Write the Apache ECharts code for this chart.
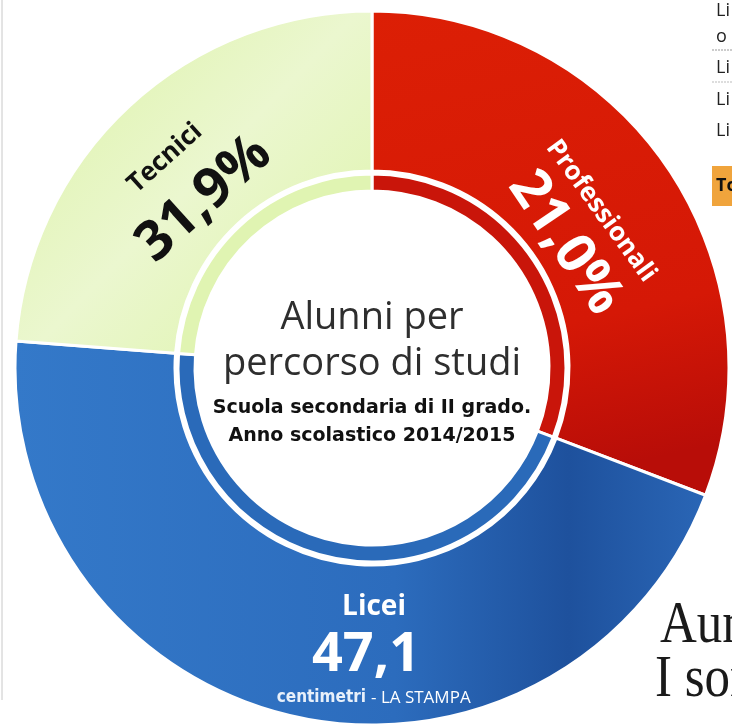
<!DOCTYPE html>
<html>
<head>
<meta charset="utf-8">
<script src="https://cdn.jsdelivr.net/npm/echarts@6/dist/echarts.min.js"></script>
<style>
html,body{margin:0;padding:0;background:#fff;}
#chart{width:732px;height:725px;}
</style>
</head>
<body>
<div id="chart"></div>
<script>
// Categories in clockwise order starting at 12 o'clock
var categories = ['Professionali', 'Licei', 'Tecnici'];
// Printed figures (as written on the chart)
var printedLabels = ['21,0%', '47,1', '31,9%'];
// Arc shares as drawn in the picture (percent of the full ring)
var arcShares = [30.8, 45.4, 23.8];
// Centre titles
var titleLines = ['Alunni per', 'percorso di studi'];
var subtitleLines = ['Scuola secondaria di II grado.', 'Anno scolastico 2014/2015'];
var sourceText = '- LA STAMPA';
var brandText = 'centimetri';

var outerColors = [
  {type:'linear',x:0,y:0,x2:0.3,y2:1,colorStops:[{offset:0,color:'#dc1f05'},{offset:0.7,color:'#d51806'},{offset:1,color:'#b80d08'}]},
  {type:'linear',x:0,y:0,x2:1,y2:0,colorStops:[{offset:0,color:'#3479c9'},{offset:0.55,color:'#2c6cbd'},{offset:0.8,color:'#1e519d'},{offset:1,color:'#2a66b6'}]},
  {type:'linear',x:0,y:0,x2:1,y2:1,colorStops:[{offset:0,color:'#dbf2a4'},{offset:0.5,color:'#ebf7cf'},{offset:1,color:'#dcf3a6'}]}
];
var innerColors = ['#c9150a', '#2a6ab9', '#e0f4b2'];

var center = [372, 368];

function buildData(colors){
  return categories.map(function(c,i){
    return {name:c, value:arcShares[i], itemStyle:{color:colors[i]}};
  });
}

var chart = echarts.init(document.getElementById('chart'), null, {renderer:'canvas'});
var deg = Math.PI/180;
var bold = function(size){ return 'bold ' + size + 'px "Open Sans", "DejaVu Sans", sans-serif'; };

function txt(o){
  o.type = 'text'; o.z = 100;
  return o;
}

var option = {
  animation:false,
  backgroundColor:'#ffffff',
  series:[
    {
      type:'pie', center:center, radius:[197,357], startAngle:90, clockwise:true,
      silent:true, label:{show:false}, labelLine:{show:false},
      itemStyle:{borderColor:'#ffffff', borderWidth:3},
      data:buildData(outerColors)
    },
    {
      type:'pie', center:center, radius:[177,194], startAngle:90, clockwise:true,
      silent:true, label:{show:false}, labelLine:{show:false},
      itemStyle:{borderColor:'#ffffff', borderWidth:3},
      data:buildData(innerColors)
    }
  ],
  graphic:[
    // left page rule
    {type:'line', z:100, shape:{x1:2,y1:0,x2:2,y2:700}, style:{stroke:'#c8c8c8', lineWidth:1}},
    // Tecnici
    txt({x:165, y:158, rotation:42*deg, style:{text:categories[2], font:bold(26), fill:'#111', textAlign:'center', textVerticalAlign:'middle'}}),
    txt({x:204, y:199, rotation:42*deg, style:{text:printedLabels[2], font:bold(55), fill:'#111', textAlign:'center', textVerticalAlign:'middle'}}),
    // Professionali
    txt({x:601, y:211, rotation:-54*deg, style:{text:categories[0], font:bold(26), fill:'#ffffff', textAlign:'center', textVerticalAlign:'middle'}}),
    txt({x:565, y:243, rotation:-56*deg, style:{text:printedLabels[0], font:bold(55), fill:'#ffffff', textAlign:'center', textVerticalAlign:'middle'}}),
    // Licei
    txt({x:374, y:607, style:{text:categories[1], font:bold(28), fill:'#ffffff', textAlign:'center', textVerticalAlign:'middle'}}),
    txt({x:366, y:656, style:{text:printedLabels[1], font:bold(54), fill:'#ffffff', textAlign:'center', textVerticalAlign:'middle'}}),
    // source
    txt({x:366, y:698, style:{text:brandText, font:'bold 17px "Liberation Sans Narrow", "DejaVu Sans Condensed", sans-serif', fill:'#e8f0fa', textAlign:'right', textVerticalAlign:'middle'}}),
    txt({x:371, y:698, style:{text:sourceText, font:'17px "Open Sans", sans-serif', fill:'#ffffff', textAlign:'left', textVerticalAlign:'middle'}}),
    // centre titles
    txt({x:372, y:318, style:{text:titleLines[0], font:'38px "Open Sans", sans-serif', fill:'#2e2e2e', textAlign:'center', textVerticalAlign:'middle'}}),
    txt({x:372, y:364, style:{text:titleLines[1], font:'38px "Open Sans", sans-serif', fill:'#2e2e2e', textAlign:'center', textVerticalAlign:'middle'}}),
    txt({x:372, y:408, style:{text:subtitleLines[0], font:'bold 19px "DejaVu Sans", sans-serif', fill:'#111', textAlign:'center', textVerticalAlign:'middle'}}),
    txt({x:372, y:436, style:{text:subtitleLines[1], font:'bold 19px "DejaVu Sans", sans-serif', fill:'#111', textAlign:'center', textVerticalAlign:'middle'}}),
    // clipped neighbouring newspaper content (right edge)
    txt({x:716, y:11, style:{text:'Li', font:'18px "Open Sans", sans-serif', fill:'#222', textVerticalAlign:'middle'}}),
    txt({x:716, y:37, style:{text:'o', font:'18px "Open Sans", sans-serif', fill:'#222', textVerticalAlign:'middle'}}),
    {type:'line', z:100, shape:{x1:712,y1:50,x2:732,y2:50}, style:{stroke:'#999', lineWidth:1, lineDash:[2,1]}},
    {type:'line', z:100, shape:{x1:712,y1:82,x2:732,y2:82}, style:{stroke:'#bbb', lineWidth:1, lineDash:[2,1]}},
    txt({x:716, y:68, style:{text:'Li', font:'18px "Open Sans", sans-serif', fill:'#222', textVerticalAlign:'middle'}}),
    txt({x:716, y:100, style:{text:'Li', font:'18px "Open Sans", sans-serif', fill:'#222', textVerticalAlign:'middle'}}),
    txt({x:716, y:131, style:{text:'Li', font:'18px "Open Sans", sans-serif', fill:'#222', textVerticalAlign:'middle'}}),
    {type:'rect', z:99, shape:{x:712,y:166,width:24,height:40}, style:{fill:'#f0a43c'}},
    txt({x:716, y:186, style:{text:'To', font:bold(18), fill:'#111', textVerticalAlign:'middle'}}),
    txt({x:660, y:626, scaleX:0.85, style:{text:'Aun', font:'60px "Liberation Serif", serif', fill:'#1a1a1a', textVerticalAlign:'middle'}}),
    txt({x:655, y:680, scaleX:0.85, style:{text:'I son', font:'60px "Liberation Serif", serif', fill:'#1a1a1a', textVerticalAlign:'middle'}})
  ]
};
chart.setOption(option);
</script>
</body>
</html>
